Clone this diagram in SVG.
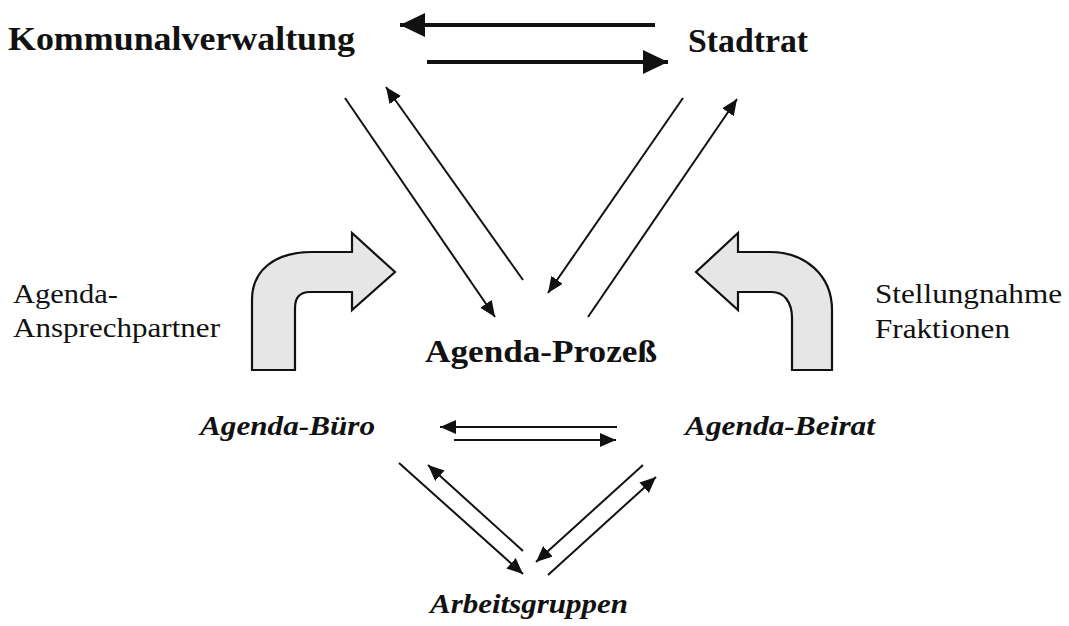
<svg xmlns="http://www.w3.org/2000/svg" width="1069" height="626" viewBox="0 0 1069 626">
<style>
text{font-family:"Liberation Serif",Tinos,"Times New Roman",Times,serif;fill:#111}
.b{font-weight:bold}
.i{font-style:italic}
.thick{stroke:#111;stroke-width:4;fill:none}
.thin{stroke:#111;stroke-width:2;fill:none}
.big{fill:#e6e6e6;stroke:#111;stroke-width:2.2;stroke-linejoin:miter}
</style>
<defs>
<marker id="hb" markerUnits="userSpaceOnUse" markerWidth="28" markerHeight="26" refX="25" refY="12" orient="auto">
<path d="M0,0 L25,12 L0,24 Z" fill="#111"/>
</marker>
<marker id="hs" markerUnits="userSpaceOnUse" markerWidth="18" markerHeight="16" refX="16" refY="7" orient="auto">
<path d="M0,0 L16,7 L0,14 Z" fill="#111"/>
</marker>
</defs>
<rect width="1069" height="626" fill="#fff"/>
<g id="connectors">
<line class="thick" x1="655" y1="25" x2="400" y2="25" marker-end="url(#hb)"/>
<line class="thick" x1="427" y1="62" x2="668" y2="62" marker-end="url(#hb)"/>
<line class="thin" x1="345" y1="98" x2="495" y2="317" marker-end="url(#hs)"/>
<line class="thin" x1="523" y1="280" x2="386" y2="87" marker-end="url(#hs)"/>
<line class="thin" x1="683" y1="98" x2="548" y2="293" marker-end="url(#hs)"/>
<line class="thin" x1="588" y1="317" x2="737" y2="99" marker-end="url(#hs)"/>
<line class="thin" x1="617" y1="427" x2="440" y2="427" marker-end="url(#hs)"/>
<line class="thin" x1="454" y1="440" x2="616" y2="440" marker-end="url(#hs)"/>
<line class="thin" x1="399" y1="463" x2="523" y2="574" marker-end="url(#hs)"/>
<line class="thin" x1="523" y1="551" x2="428" y2="465" marker-end="url(#hs)"/>
<line class="thin" x1="643" y1="465" x2="536" y2="562" marker-end="url(#hs)"/>
<line class="thin" x1="548" y1="575" x2="656" y2="477" marker-end="url(#hs)"/>
</g>
<g id="arrow-left">
<path class="big" d="M252,370 L252,300 C252,270 275,252 312,252 L352,252 L352,233 L395,272 L352,310 L352,292 L310,292 C300,292 295,298 295,308 L295,370 Z"/>
</g>
<g id="arrow-right">
<path class="big" d="M832,370 L832,310 C832,275 805,252 770,252 L738,252 L738,233 L696,272 L738,310 L738,292 L772,292 C784,292 792,302 792,318 L792,370 Z"/>
</g>
<g id="kommunalverwaltung">
<text class="b" x="8" y="50" font-family="Liberation Serif, serif" font-size="33" textLength="347" lengthAdjust="spacingAndGlyphs">Kommunalverwaltung</text>
</g>
<g id="stadtrat">
<text class="b" x="688" y="52" font-family="Liberation Serif, serif" font-size="33" textLength="120" lengthAdjust="spacingAndGlyphs">Stadtrat</text>
</g>
<g id="ansprechpartner">
<text x="13" y="303" font-family="Liberation Serif, serif" font-size="28" textLength="105" lengthAdjust="spacingAndGlyphs">Agenda-</text>
<text x="13" y="337" font-family="Liberation Serif, serif" font-size="28" textLength="207" lengthAdjust="spacingAndGlyphs">Ansprechpartner</text>
</g>
<g id="stellungnahme">
<text x="875" y="303" font-family="Liberation Serif, serif" font-size="28" textLength="187" lengthAdjust="spacingAndGlyphs">Stellungnahme</text>
<text x="875" y="338" font-family="Liberation Serif, serif" font-size="28" textLength="135" lengthAdjust="spacingAndGlyphs">Fraktionen</text>
</g>
<g id="agenda-prozess">
<text class="b" x="425" y="362" font-family="Liberation Serif, serif" font-size="31" textLength="232" lengthAdjust="spacingAndGlyphs">Agenda-Prozeß</text>
</g>
<g id="agenda-buero">
<text class="b i" x="200" y="435" font-family="Liberation Serif, serif" font-size="28" textLength="175" lengthAdjust="spacingAndGlyphs">Agenda-Büro</text>
</g>
<g id="agenda-beirat">
<text class="b i" x="685" y="435" font-family="Liberation Serif, serif" font-size="28" textLength="190" lengthAdjust="spacingAndGlyphs">Agenda-Beirat</text>
</g>
<g id="arbeitsgruppen">
<text class="b i" x="430" y="613" font-family="Liberation Serif, serif" font-size="28" textLength="198" lengthAdjust="spacingAndGlyphs">Arbeitsgruppen</text>
</g>
</svg>
